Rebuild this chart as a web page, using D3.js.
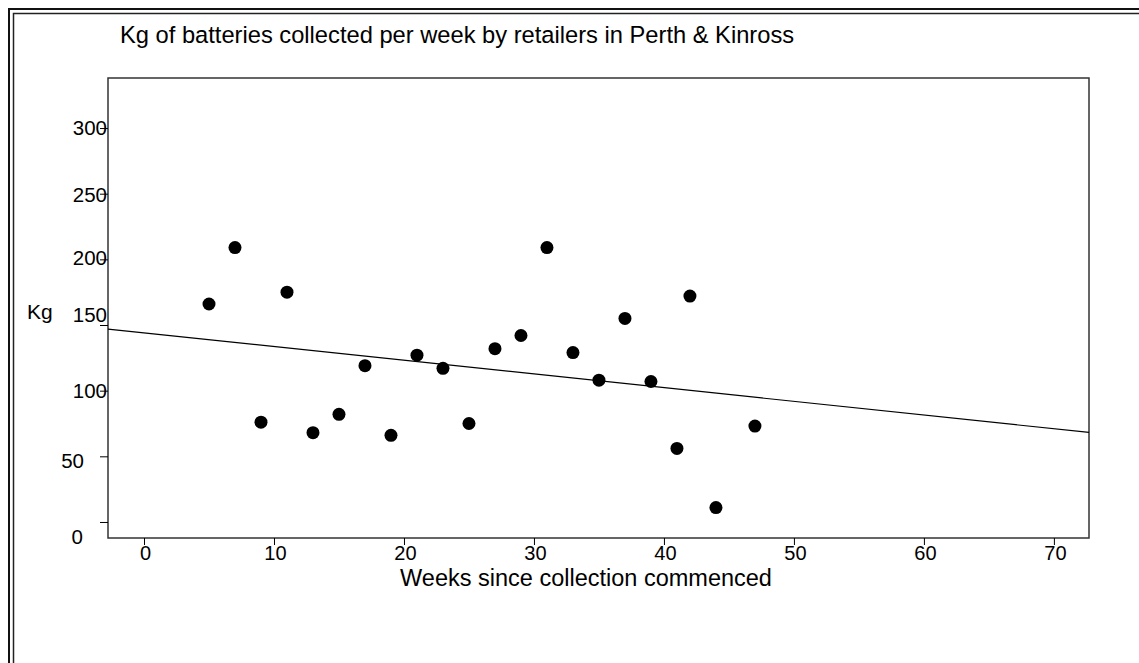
<!DOCTYPE html>
<html>
<head>
<meta charset="utf-8">
<script src="https://cdn.jsdelivr.net/npm/d3@7"></script>
<style>
  html, body { margin: 0; padding: 0; background: #fff; }
  svg { display: block; font-family: "Liberation Sans", Arial, sans-serif; }
</style>
</head>
<body>
<svg id="chart" width="1139" height="663"></svg>
<script>
// Weekly battery collection data
const weeks = [5, 7, 9, 11, 13, 15, 17, 19, 21, 23, 25, 27, 29, 31, 33, 35, 37, 39, 41, 42, 44, 47];
const kgCollected = [166, 209, 76, 175, 68, 82, 119, 66, 127, 117, 75, 132, 142, 209, 129, 108, 155, 107, 56, 172, 11, 73];
const xTickValues = [0, 10, 20, 30, 40, 50, 60, 70];
const yTickValues = [0, 50, 100, 150, 200, 250, 300];
const titleText = "Kg of batteries collected per week by retailers in Perth & Kinross";
const xAxisTitle = "Weeks since collection commenced";
const yAxisTitle = "Kg";

const svg = d3.select("#chart");
const W = 1139, H = 663;
const plot = { left: 108, right: 1089, top: 78, bottom: 538 };
const FONT = "Liberation Sans, Arial, sans-serif";

// Page frame: double rule running off the right and bottom edges
svg.append("rect").attr("x", 9).attr("y", 9).attr("width", W + 20).attr("height", H + 20)
  .attr("fill", "none").attr("stroke", "#111").attr("stroke-width", 2);
svg.append("rect").attr("x", 13.5).attr("y", 13.5).attr("width", W + 20).attr("height", H + 20)
  .attr("fill", "none").attr("stroke", "#222").attr("stroke-width", 1.5);

const x = d3.scaleLinear().domain([-2.77, 72.7]).range([plot.left, plot.right]);
const y = d3.scaleLinear().domain([-12.2, 338.1]).range([plot.bottom, plot.top]);

// Plot box
svg.append("rect")
  .attr("x", plot.left).attr("y", plot.top)
  .attr("width", plot.right - plot.left).attr("height", plot.bottom - plot.top)
  .attr("fill", "none").attr("stroke", "#333").attr("stroke-width", 1.5);

// Axes
const xAxis = svg.append("g").attr("transform", `translate(0,${plot.bottom})`)
  .call(d3.axisBottom(x).tickValues(xTickValues).tickSize(7).tickPadding(1).tickSizeOuter(0));
xAxis.select(".domain").remove();
xAxis.selectAll("line").attr("stroke", "#000");
xAxis.selectAll("text").attr("font-size", 20).attr("fill", "#000")
  .attr("font-family", FONT).attr("dx", 1);

const yAxis = svg.append("g").attr("transform", `translate(${plot.left},0)`)
  .call(d3.axisLeft(y).tickValues(yTickValues).tickSize(8).tickPadding(0).tickSizeOuter(0));
yAxis.select(".domain").remove();
yAxis.selectAll("line").attr("stroke", "#000");
// label placement per tick (three-digit labels sit over their tick marks)
const yLabelNudge = { 0: [-25, 14], 50: [-24, 4], 100: [-1, -1], 150: [-1, -11], 200: [-1, -2], 250: [-1, 0], 300: [-1, -1] };
yAxis.selectAll(".tick text")
  .attr("font-size", 20.5).attr("fill", "#000")
  .attr("font-family", FONT)
  .attr("x", d => yLabelNudge[d][0])
  .attr("dy", null)
  .attr("transform", d => `translate(0,${yLabelNudge[d][1]})`)
  .attr("dominant-baseline", "central");

// Least-squares trend line
const n = weeks.length;
const mx = d3.mean(weeks), my = d3.mean(kgCollected);
let sxy = 0, sxx = 0;
for (let i = 0; i < n; i++) {
  sxy += (weeks[i] - mx) * (kgCollected[i] - my);
  sxx += (weeks[i] - mx) ** 2;
}
const slope = sxy / sxx, intercept = my - slope * mx;
const [x0, x1] = x.domain();
svg.append("line")
  .attr("x1", x(x0)).attr("y1", y(intercept + slope * x0))
  .attr("x2", x(x1)).attr("y2", y(intercept + slope * x1))
  .attr("stroke", "#000").attr("stroke-width", 1.2);

// Points
svg.append("g").selectAll("circle")
  .data(weeks.map((w, i) => ({ w, kg: kgCollected[i] })))
  .join("circle")
  .attr("cx", d => x(d.w)).attr("cy", d => y(d.kg))
  .attr("r", 6.5).attr("fill", "#000");

// Titles
svg.append("text").attr("x", 120).attr("y", 43)
  .attr("font-size", 23.7).attr("fill", "#000").text(titleText);
svg.append("text").attr("x", 586).attr("y", 586).attr("text-anchor", "middle")
  .attr("font-size", 23.5).attr("fill", "#000").text(xAxisTitle);
svg.append("text").attr("x", 27).attr("y", 319)
  .attr("font-size", 21).attr("fill", "#000").text(yAxisTitle);
</script>
</body>
</html>
